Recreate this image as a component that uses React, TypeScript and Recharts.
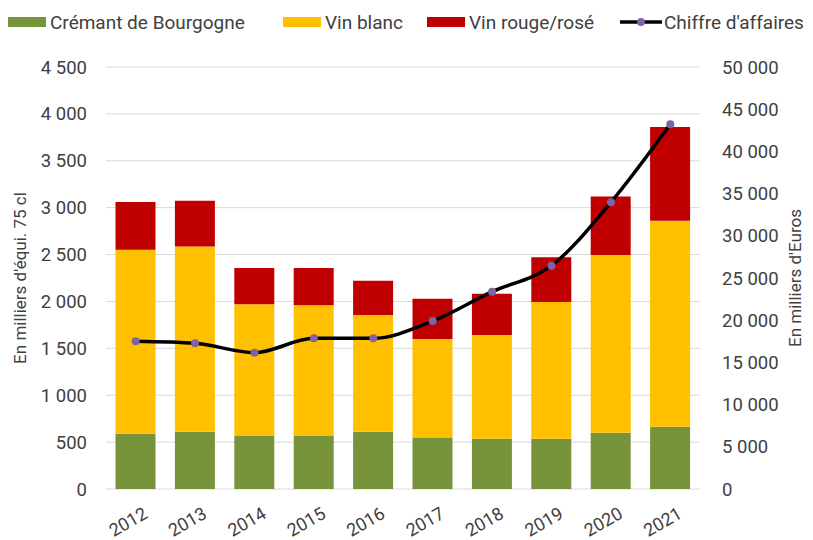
import React from 'react';
import { ComposedChart, Bar, Line, XAxis, YAxis, CartesianGrid } from 'recharts';

const years = ['2012', '2013', '2014', '2015', '2016', '2017', '2018', '2019', '2020', '2021'];
const cremant = [590, 610, 565, 570, 610, 550, 535, 535, 600, 665];
const vinBlanc = [1960, 1975, 1405, 1390, 1245, 1050, 1107, 1460, 1895, 2195];
const vinRouge = [510, 490, 387, 397, 365, 430, 440, 475, 625, 1000];
const chiffre = [17500, 17260, 16150, 17850, 17850, 19900, 23380, 26460, 33970, 43210];

const leftTicks = [0, 500, 1000, 1500, 2000, 2500, 3000, 3500, 4000, 4500];
const rightTicks = [0, 5000, 10000, 15000, 20000, 25000, 30000, 35000, 40000, 45000, 50000];

const FONT = 'Roboto, sans-serif';
const TEXT = '#404040';
const GREEN = '#77933C';
const YELLOW = '#FFC000';
const RED = '#C00000';
const DOT = '#8064A2';

const data = years.map((y, i) => ({
  year: y,
  cremant: cremant[i],
  blanc: vinBlanc[i],
  rouge: vinRouge[i],
  ca: chiffre[i],
}));

// French style thousands: "4 500"
const fmt = (v: number) => (v >= 1000 ? `${Math.floor(v / 1000)} ${String(v % 1000).padStart(3, '0')}` : String(v));

const YearTick = (props: any) => {
  const { x, y, payload } = props;
  return (
    <g transform={`translate(${x + 6},${y + 8})`}>
      <text x={0} y={0} dy={14} textAnchor="end" transform="rotate(-30)" fill={TEXT} fontSize={18} fontFamily={FONT}>
        {payload.value}
      </text>
    </g>
  );
};

const legendItems = [
  { label: 'Crémant de Bourgogne', color: GREEN, left: 8, type: 'box' },
  { label: 'Vin blanc', color: YELLOW, left: 283, type: 'box' },
  { label: 'Vin rouge/rosé', color: RED, left: 427, type: 'box' },
  { label: "Chiffre d'affaires", color: '#000', left: 620, type: 'line' },
];

const App: React.FC = () => {
  return (
    <div style={{ position: 'absolute', left: 0, top: 0, width: 813, height: 540, background: '#fff', fontFamily: FONT }}>
      {legendItems.map(item => (
        <div
          key={item.label}
          style={{ position: 'absolute', left: item.left, top: 10, height: 24, display: 'flex', alignItems: 'center', color: TEXT, fontSize: 19 }}
        >
          {item.type === 'box' ? (
            <span style={{ display: 'inline-block', width: 38, height: 10, background: item.color, marginRight: 4 }} />
          ) : (
            <svg width={42} height={12} style={{ marginRight: 2 }}>
              <line x1={0} y1={6} x2={42} y2={6} stroke="#000" strokeWidth={3.5} />
              <circle cx={21} cy={6} r={4} fill={DOT} />
            </svg>
          )}
          <span>{item.label}</span>
        </div>
      ))}
      <ComposedChart width={813} height={540} data={data} margin={{ top: 67, right: 0, bottom: 0, left: 0 }} barCategoryGap="16%">
        <CartesianGrid vertical={false} stroke="#d9d9d9" strokeWidth={1} yAxisId="left" />
        <XAxis dataKey="year" axisLine={false} tickLine={false} tick={<YearTick />} height={51} interval={0} />
        <YAxis
          yAxisId="left"
          orientation="left"
          width={106}
          domain={[0, 4500]}
          ticks={leftTicks}
          tickFormatter={fmt}
          axisLine={false}
          tickLine={false}
          tickSize={0}
          tickMargin={19}
          tick={{ fill: TEXT, fontSize: 18.5, fontFamily: FONT }}
          label={{
            content: (p: any) => {
              const vb = p.viewBox;
              const cx = vb.x + 22;
              const cy = vb.y + vb.height / 2;
              return (
                <text x={cx} y={cy} transform={`rotate(-90, ${cx}, ${cy})`} textAnchor="middle" dominantBaseline="middle" fill={TEXT} fontSize={17} fontFamily={FONT}>
                  En milliers d'équi. 75 cl
                </text>
              );
            },
          }}
        />
        <YAxis
          yAxisId="right"
          orientation="right"
          width={113}
          domain={[0, 50000]}
          ticks={rightTicks}
          tickFormatter={fmt}
          axisLine={false}
          tickLine={false}
          tickSize={0}
          tickMargin={22}
          tick={{ fill: TEXT, fontSize: 18.5, fontFamily: FONT, textAnchor: 'start' }}
          label={{
            content: (p: any) => {
              const vb = p.viewBox;
              const cx = vb.x + 97;
              const cy = vb.y + vb.height / 2;
              return (
                <text x={cx} y={cy} transform={`rotate(-90, ${cx}, ${cy})`} textAnchor="middle" dominantBaseline="middle" fill={TEXT} fontSize={17} fontFamily={FONT}>
                  En milliers d'Euros
                </text>
              );
            },
          }}
        />
        <Bar yAxisId="left" dataKey="cremant" stackId="a" fill={GREEN} isAnimationActive={false} />
        <Bar yAxisId="left" dataKey="blanc" stackId="a" fill={YELLOW} isAnimationActive={false} />
        <Bar yAxisId="left" dataKey="rouge" stackId="a" fill={RED} isAnimationActive={false} />
        <Line
          yAxisId="right"
          dataKey="ca"
          type="monotone"
          stroke="#000"
          strokeWidth={3.5}
          dot={{ r: 4, fill: DOT, stroke: 'none' }}
          activeDot={false}
          isAnimationActive={false}
        />
      </ComposedChart>
    </div>
  );
};

export default App;
